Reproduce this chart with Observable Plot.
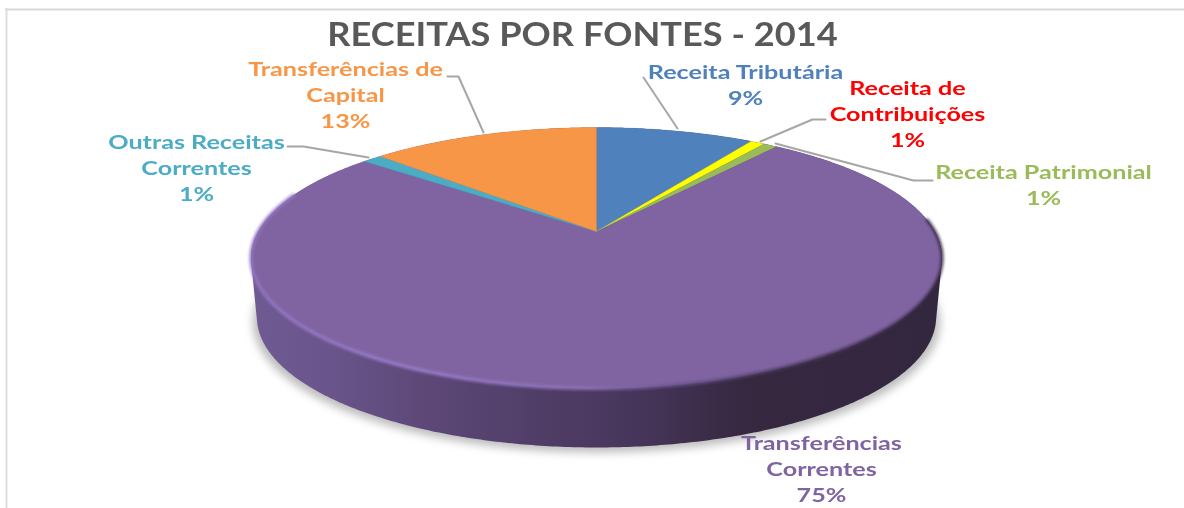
<!DOCTYPE html>
<html>
<head>
<meta charset="utf-8">
<script src="https://cdn.jsdelivr.net/npm/d3@7"></script>
<script src="https://cdn.jsdelivr.net/npm/@observablehq/plot@0.6"></script>
<style>
  html, body { margin: 0; padding: 0; background: #fff; }
  .pie-shadow { filter: blur(4px); }
  .pie-rim { filter: blur(1.4px); }
  .soft-text { filter: blur(0.4px); }
  .leader { filter: blur(0.4px); }
</style>
</head>
<body>
<div id="chart"></div>
<script>
const chartTitle = "RECEITAS POR FONTES - 2014";
const categories = ["Receita Tributária", "Receita de Contribuições", "Receita Patrimonial", "Transferências Correntes", "Outras Receitas Correntes", "Transferências de Capital"];
const percentLabels = ["9%", "1%", "1%", "75%", "1%", "13%"];
const shares = [9, 0.8, 0.8, 75.3, 1.1, 13];
const sliceColors = ["#4f81bd", "#ffff00", "#9bbb59", "#8064a2", "#4bacc6", "#f79646"];
const labelColors = ["#4f81bd", "#ff0000", "#9bbb59", "#8064a2", "#4bacc6", "#f79646"];
const labelLines = [
  ["Receita Tributária"],
  ["Receita de", "Contribuições"],
  ["Receita Patrimonial"],
  ["Transferências", "Correntes"],
  ["Outras Receitas", "Correntes"],
  ["Transferências de", "Capital"]
];

// Layout (annotation positions in chart space)
const W = 1184, H = 508;
const labelAnchors = [[745, 83], [907, 112], [1043, 183], [821, 467], [196, 166], [345, 93]];
const leaders = [
  [[643, 77], [677, 128]],
  [[825, 119], [812, 119], [760, 141]],
  [[932, 180], [913, 180], [775, 143]],
  [],
  [[287, 146], [303, 146], [368, 157]],
  [[447, 76], [458, 76], [483, 132]]
];

// Perspective projection of the pie disc: the apex sits above the ellipse centre
const apex = {x: 596, y: 231};
const persp = 0.203, discX = 338.3, discY = 125.1;
function project(theta, depth = 0) {
  const u = Math.sin(theta), v = Math.cos(theta), w = 1 + persp * v;
  const xScale = depth ? 0.983 : 1;
  return {x: apex.x + discX * u / w * xScale, y: apex.y - discY * v / w + depth};
}
const wallDepth = 59;
const pie = d3.pie().sort(null).value(d => d)(shares);
const arcPoints = (a0, a1, depth = 0) => {
  const n = Math.max(2, Math.ceil((a1 - a0) / 0.01));
  return d3.range(n + 1).map(i => project(a0 + (a1 - a0) * i / n, depth));
};
const wedges = pie.map((p, i) => ({
  color: sliceColors[i],
  points: [apex, ...arcPoints(p.startAngle, p.endAngle), apex]
}));
const fullRing = arcPoints(0, 2 * Math.PI);
const bottomRing = arcPoints(0, 2 * Math.PI, wallDepth);
const hull = d3.polygonHull([...fullRing, ...bottomRing].map(p => [p.x, p.y])).map(([x, y]) => ({x, y}));
hull.push(hull[0]);
const shadow = arcPoints(0, 2 * Math.PI, wallDepth + 5).map(p => ({x: apex.x + (p.x - apex.x) * 1.012, y: p.y}));
const rim = arcPoints(Math.PI * 0.47, Math.PI * 1.6);

const defs = () => {
  const ns = "http://www.w3.org/2000/svg";
  const d = document.createElementNS(ns, "defs");
  const grad = (id, stops) => {
    const g = document.createElementNS(ns, "linearGradient");
    g.setAttribute("id", id);
    g.setAttribute("x1", "0"); g.setAttribute("x2", "1"); g.setAttribute("y1", "0"); g.setAttribute("y2", "0");
    for (const [o, c] of stops) {
      const s = document.createElementNS(ns, "stop");
      s.setAttribute("offset", o); s.setAttribute("stop-color", c);
      g.appendChild(s);
    }
    d.appendChild(g);
  };
  grad("wall", [[0, "#6f5a93"], [0.12, "#69548b"], [0.26, "#5c4776"], [0.41, "#513e68"], [0.55, "#47365c"], [0.72, "#35283f"], [1, "#33263f"]]);
  grad("rim", [[0, "#9478c4"], [0.25, "#9c80d0"], [0.48, "#8f74bb"], [0.6, "#6d5690"], [0.76, "#4a3a5e"], [1, "#3a2c48"]]);
  return d;
};

const text = categories.map((c, i) => ({
  label: [...labelLines[i], percentLabels[i]].join("\n"),
  x: labelAnchors[i][0], y: labelAnchors[i][1], color: labelColors[i]
}));

const plot = Plot.plot({
  width: W, height: H, margin: 0,
  x: {domain: [0, W], range: [0, W], axis: null},
  y: {domain: [0, H], range: [0, H], axis: null},
  style: {background: "#fff"},
  marks: [
    defs,
    Plot.ruleY([9], {x1: 5, x2: W, stroke: "#d9d9d9", strokeWidth: 2}),
    Plot.ruleX([6], {y1: 8, y2: H, stroke: "#dedede", strokeWidth: 2}),
    Plot.line(shadow, {x: "x", y: "y", fill: "#bdbdbd", stroke: "none", className: "pie-shadow"}),
    Plot.line(hull, {x: "x", y: "y", fill: "url(#wall)", stroke: "none"}),
    ...wedges.map(w => Plot.line(w.points, {x: "x", y: "y", fill: w.color, stroke: w.color, strokeWidth: 0.3, curve: "linear"})),
    Plot.line(rim, {x: "x", y: "y", stroke: "url(#rim)", strokeWidth: 3, className: "pie-rim"}),
    ...leaders.filter(l => l.length).map(l => Plot.line(l.map(([x, y]) => ({x, y})), {x: "x", y: "y", stroke: "#a6a6a6", strokeWidth: 2, className: "leader"})),
    Plot.text([chartTitle], {x: [582], y: [35], text: d => d, fontFamily: "Lato, sans-serif", fontWeight: 700, fontSize: 33, fill: "#595959", className: "soft-text title-text"}),
    Plot.text(text, {x: "x", y: "y", text: "label", fill: "color", fontFamily: "Lato, sans-serif", fontWeight: 700, fontSize: 19.5, lineHeight: 1.34, className: "soft-text label-text"})
  ]
});
// The reference's lettering is stretched horizontally
const stretch = (sel, k) => plot.querySelectorAll(sel).forEach(t => {
  t.setAttribute("transform", `${t.getAttribute("transform") || ""} scale(${k},1)`);
});
stretch(".title-text text", 1.097);
stretch(".label-text text", 1.29);
document.getElementById("chart").appendChild(plot);
</script>
</body>
</html>
